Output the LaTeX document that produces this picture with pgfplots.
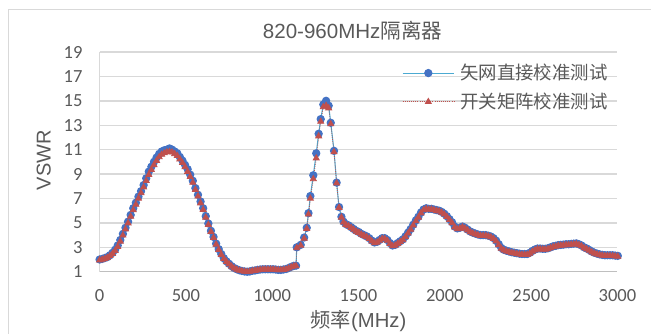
\documentclass[border=0pt]{standalone}
\usepackage{pgfplots}
\pgfplotsset{compat=1.18}
\usepackage{pgfplotstable}
\usepackage{fontspec}
\setmainfont{Carlito}
\newfontfamily\cjk{Noto Sans CJK SC}
\newfontfamily\arial{Liberation Sans}
\definecolor{txt}{HTML}{595959}
\definecolor{gridc}{HTML}{D9D9D9}
\definecolor{axisc}{HTML}{BFBFBF}
\definecolor{bmark}{HTML}{4472C4}
\definecolor{bline}{RGB}{75,170,210}
\definecolor{rmark}{HTML}{C0504D}

\pgfplotstableread{
f a b
0 2.00 1.95
15 2.05 2.00
30 2.12 2.07
45 2.20 2.15
60 2.35 2.30
75 2.55 2.48
90 2.80 2.72
105 3.15 3.05
120 3.60 3.48
135 4.10 3.98
150 4.60 4.48
165 5.10 4.98
180 5.65 5.52
195 6.20 6.05
210 6.65 6.50
225 7.15 7.00
240 7.60 7.45
255 8.10 7.92
270 8.65 8.45
285 9.20 8.95
300 9.60 9.35
315 10.00 9.75
330 10.35 10.10
345 10.65 10.40
360 10.85 10.60
375 10.95 10.72
390 11.00 10.80
405 11.10 10.82
420 11.00 10.78
435 10.85 10.65
450 10.70 10.50
465 10.40 10.22
480 10.10 9.92
495 9.75 9.58
510 9.40 9.20
525 8.95 8.78
540 8.45 8.30
555 7.85 7.72
570 7.30 7.18
585 6.75 6.62
600 6.20 6.08
615 5.55 5.45
630 4.95 4.85
645 4.35 4.27
660 3.85 3.78
675 3.30 3.24
690 2.85 2.80
705 2.45 2.40
720 2.10 2.06
735 1.85 1.82
750 1.65 1.62
765 1.45 1.43
780 1.30 1.28
795 1.20 1.18
810 1.12 1.10
825 1.06 1.05
840 1.02 1.01
855 1.00 0.99
870 1.02 1.01
885 1.08 1.06
900 1.10 1.09
915 1.15 1.13
930 1.18 1.16
945 1.20 1.18
960 1.20 1.19
975 1.20 1.19
990 1.20 1.19
1005 1.20 1.18
1020 1.18 1.16
1035 1.15 1.14
1050 1.15 1.14
1065 1.18 1.16
1080 1.22 1.20
1095 1.30 1.28
1110 1.40 1.38
1125 1.48 1.45
1138 1.50 1.47
1142 3.00 2.95
1165 3.20 3.15
1185 3.80 3.72
1200 4.60 4.52
1210 5.80 5.70
1221 7.20 7.00
1238 8.90 8.60
1255 10.70 10.30
1269 12.30 12.10
1281 13.50 13.30
1296 14.70 14.50
1312 15.00 14.60
1327 14.60 14.40
1339 13.20 13.10
1358 10.90 10.80
1373 8.30 8.25
1387 6.30 6.25
1401 5.50 5.45
1413 5.10 5.05
1427 4.90 4.85
1442 4.80 4.75
1457 4.65 4.60
1472 4.50 4.45
1487 4.35 4.30
1502 4.25 4.20
1517 4.10 4.05
1532 4.00 3.95
1547 3.90 3.85
1562 3.75 3.70
1577 3.55 3.50
1592 3.40 3.35
1607 3.45 3.40
1622 3.60 3.55
1637 3.75 3.70
1652 3.75 3.70
1667 3.60 3.55
1682 3.35 3.30
1697 3.15 3.10
1712 3.20 3.15
1727 3.35 3.30
1742 3.50 3.45
1757 3.65 3.60
1772 3.90 3.85
1787 4.20 4.15
1802 4.50 4.45
1817 4.85 4.80
1832 5.20 5.15
1847 5.50 5.45
1862 5.85 5.80
1877 6.10 6.05
1892 6.20 6.15
1907 6.15 6.10
1922 6.15 6.10
1937 6.10 6.05
1952 6.05 6.00
1967 6.00 5.95
1982 5.90 5.85
1997 5.75 5.70
2012 5.55 5.50
2027 5.30 5.25
2042 5.05 5.00
2057 4.70 4.65
2072 4.55 4.50
2087 4.60 4.55
2102 4.70 4.65
2117 4.60 4.55
2132 4.45 4.40
2147 4.30 4.25
2162 4.20 4.15
2177 4.12 4.07
2192 4.05 4.00
2207 4.00 3.95
2222 4.00 3.95
2237 4.00 3.95
2252 3.95 3.90
2267 3.88 3.83
2282 3.75 3.70
2297 3.55 3.50
2312 3.25 3.20
2327 2.95 2.90
2342 2.80 2.75
2357 2.72 2.67
2372 2.66 2.61
2387 2.60 2.55
2402 2.56 2.51
2417 2.52 2.47
2432 2.48 2.43
2447 2.45 2.40
2462 2.45 2.40
2477 2.45 2.40
2492 2.55 2.50
2507 2.70 2.65
2522 2.82 2.77
2537 2.90 2.85
2552 2.90 2.85
2567 2.88 2.83
2582 2.88 2.83
2597 2.92 2.87
2612 3.00 2.95
2627 3.08 3.03
2642 3.12 3.07
2657 3.18 3.13
2672 3.20 3.15
2687 3.22 3.17
2702 3.25 3.20
2717 3.25 3.20
2732 3.28 3.23
2747 3.30 3.25
2762 3.32 3.27
2777 3.25 3.20
2792 3.15 3.10
2807 3.00 2.95
2822 2.90 2.85
2837 2.78 2.73
2852 2.65 2.60
2867 2.55 2.50
2882 2.48 2.43
2897 2.42 2.37
2912 2.38 2.33
2927 2.35 2.30
2942 2.35 2.30
2957 2.35 2.30
2972 2.35 2.30
2987 2.32 2.27
3002 2.30 2.25
}\vswrdata

\begin{document}
\begin{tikzpicture}
\path[use as bounding box] (0pt,0pt) rectangle (488.25pt,250.5pt);
\begin{scope}
\clip (0pt,0pt) rectangle (488.25pt,250.5pt);
\draw[gridc, line width=1.1pt] (6.4pt,-10pt) rectangle (500pt,243.5pt);
\end{scope}
\begin{axis}[
  at={(74.7pt,46.7pt)}, anchor=south west,
  scale only axis, width=388.4pt, height=164.8pt,
  xmin=0, xmax=3000, ymin=1, ymax=19,
  xtick={0,500,...,3000}, ytick={1,3,...,19},
  axis x line*=bottom, axis y line*=left,
  x axis line style={axisc, line width=1.1pt, -},
  y axis line style={gridc, line width=1.1pt, -},
  major tick length=0pt,
  ymajorgrids, grid style={gridc, line width=1.1pt},
  clip=false,
  /pgf/number format/assume math mode=true,
  /pgf/number format/1000 sep={},
  tick label style={text=txt, font=\fontsize{13.9}{15}\selectfont},
  yticklabel style={anchor=east, inner sep=0pt, xshift=-12.7pt},
  xticklabel style={anchor=center, inner sep=0pt, yshift=-17.5pt},
  legend cell align=left,
  legend image code/.code={\draw[mark repeat=2,mark phase=2,#1] plot coordinates {(0pt,0pt)(19.35pt,0pt)(38.7pt,0pt)};},
  legend style={draw=none, fill=none, at={(axis description cs:0.5834,0.8386)}, anchor=west, inner sep=0pt, row sep=8.4pt, column sep=4.3pt,
    nodes={inner sep=0pt, text=txt, font=\cjk\fontsize{13.8}{14}\selectfont}},
]
\addplot[color=bline, line width=0.8pt, mark=*, mark size=2.7pt, mark options={fill=bmark, draw=bmark}] table[x=f,y=a]{\vswrdata};
\addplot[color=rmark, densely dotted, line width=0.6pt, mark=triangle*, mark size=2.6pt, mark options={solid, fill=rmark, draw=rmark}] table[x=f,y=b]{\vswrdata};
\legend{矢网直接校准测试, 开关矩阵校准测试}
\end{axis}
\node[anchor=base, text=txt, font=\fontsize{15.4}{16}\selectfont] at (264.4pt,221.8pt) {\arial 820-960MHz\cjk 隔离器};
\node[anchor=base, text=txt, font=\fontsize{15.2}{16}\selectfont] at (268.9pt,4.7pt) {\cjk 频率\arial (MHz)};
\node[anchor=base, rotate=90, text=txt, font=\fontsize{15}{16}\selectfont] at (38pt,130.3pt) {\arial VSWR};
\end{tikzpicture}
\end{document}
